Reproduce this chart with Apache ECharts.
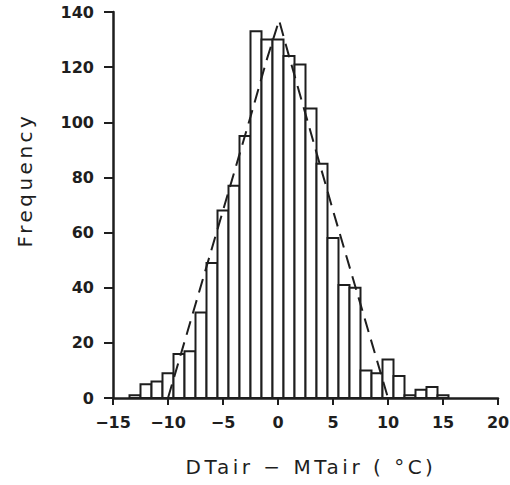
<!DOCTYPE html>
<html>
<head>
<meta charset="utf-8">
<script src="https://cdn.jsdelivr.net/npm/echarts@6/dist/echarts.min.js"></script>
<style>
	html, body { margin: 0; padding: 0; background: #fff; }
	#chart { width: 510px; height: 485px; }
</style>
</head>
<body>
<div id="chart"></div>
<script>
// histogram bins (centre of each 1-degree bin) and their counts
const binCenters = [-13, -12, -11, -10, -9, -8, -7, -6, -5, -4, -3, -2, -1, 0, 1, 2, 3, 4, 5, 6, 7, 8, 9, 10, 11, 12, 13, 14, 15];
const binCounts = [1, 5, 6, 9, 16, 17, 31, 49, 68, 77, 95, 133, 130, 130, 124, 121, 105, 85, 58, 41, 40, 10, 9, 14, 8, 1, 3, 4, 1];
const binWidth = 1;

// dashed fitted curve
const curveX = [-10, -7.5, -5, -2.5, -1, 0.1, 1, 2.5, 5, 7.5, 10];
const curveY = [0, 34, 68, 102, 123, 137, 124, 103, 68, 34, 0];

const xTicks = { min: -15, max: 20, step: 5 };
const yTicks = { min: 0, max: 140, step: 20 };

const ink = "#1e1e1e";
const tickFont = { fontFamily: "DejaVu Sans", fontWeight: "bold", fontSize: 16, color: ink };
const titleFont = { fontFamily: "DejaVu Sans", fontSize: 20, fill: ink };

const chart = echarts.init(document.getElementById("chart"), null, { renderer: "svg" });

const option = {
	animation: false,
	backgroundColor: "#fff",
	grid: { left: 113, right: 12, top: 12, bottom: 87, outerBoundsMode: "none" },
	xAxis: {
		type: "value",
		min: xTicks.min,
		max: xTicks.max,
		interval: xTicks.step,
		axisLine: { onZero: false, lineStyle: { color: ink, width: 2.5 } },
		axisTick: { length: 7, lineStyle: { color: ink, width: 2 } },
		axisLabel: {
			...tickFont,
			margin: 16,
			formatter: (v) => (v < 0 ? "\u2212" + Math.abs(v) : String(v)),
		},
		splitLine: { show: false },
	},
	yAxis: {
		type: "value",
		min: yTicks.min,
		max: yTicks.max,
		interval: yTicks.step,
		axisLine: { show: true, onZero: false, lineStyle: { color: ink, width: 2.5 } },
		axisTick: { show: true, length: 9, lineStyle: { color: ink, width: 2 } },
		axisLabel: { ...tickFont, margin: 19 },
		splitLine: { show: false },
	},
	graphic: [
		{
			type: "text",
			x: 25,
			y: 180,
			rotation: Math.PI / 2,
			style: { text: "Frequency", ...titleFont, align: "center", verticalAlign: "middle" },
		},
		{
			type: "text",
			x: 311,
			y: 467,
			style: { text: "DTair \u2212 MTair ( \u00B0C)", ...titleFont, align: "center", verticalAlign: "middle" },
		},
	],
	series: [
		{
			type: "custom",
			data: binCenters.map((c, i) => [c, binCounts[i]]),
			encode: { x: 0, y: 1 },
			renderItem: (params, api) => {
				const c = api.value(0);
				const top = api.coord([c - binWidth / 2, api.value(1)]);
				const bottom = api.coord([c + binWidth / 2, 0]);
				return {
					type: "rect",
					shape: { x: top[0], y: top[1], width: bottom[0] - top[0], height: bottom[1] - top[1] },
					style: { fill: "#fff", stroke: ink, lineWidth: 2 },
				};
			},
			z: 2,
		},
		{
			type: "line",
			data: curveX.map((x, i) => [x, curveY[i]]),
			symbol: "none",
			lineStyle: { color: ink, width: 2, type: [14, 8] },
			z: 3,
		},
	],
};

chart.setOption(option);

// the original axis titles are widely letter-spaced
function spaceTitles() {
	document.querySelectorAll("#chart text").forEach((t) => {
		if (getComputedStyle(t).fontSize === "20px") t.style.letterSpacing = "3.5px";
	});
}
spaceTitles();
chart.on("finished", spaceTitles);
</script>
</body>
</html>
